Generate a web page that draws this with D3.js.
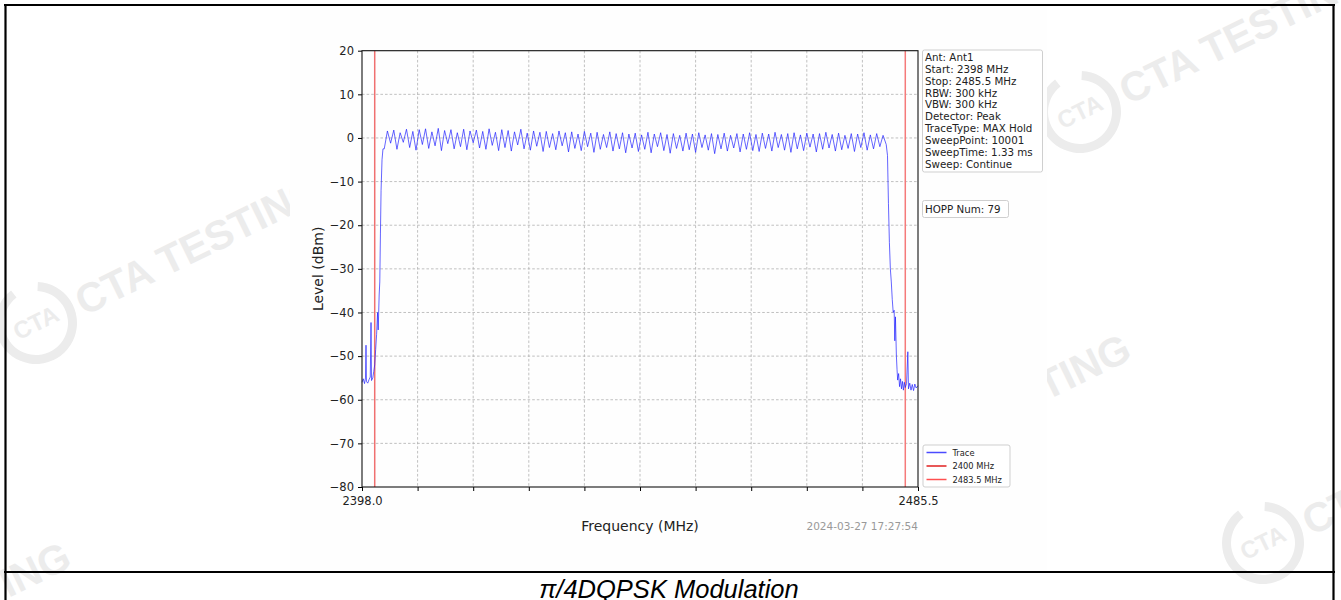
<!DOCTYPE html>
<html><head><meta charset="utf-8">
<script src="https://cdn.jsdelivr.net/npm/d3@7"></script>
<style>body{margin:0;background:#fff;} svg{display:block;}</style>
</head><body>
<svg id="c" width="1341" height="600"></svg>
<script>
// ---------------- data ----------------
const xTickValues = [2398.0, 2406.75, 2415.5, 2424.25, 2433.0, 2441.75, 2450.5, 2459.25, 2468.0, 2476.75, 2485.5];
const xTickLabels = ["2398.0", "", "", "", "", "", "", "", "", "", "2485.5"];
const yTickValues = [20, 10, 0, -10, -20, -30, -40, -50, -60, -70, -80];
const yTickLabels = ["20", "10", "0", "\u221210", "\u221220", "\u221230", "\u221240", "\u221250", "\u221260", "\u221270", "\u221280"];

// left skirt of the trace
const edgeLeftFreq  = [2398.0, 2398.2, 2398.4, 2398.55, 2398.63, 2398.7, 2398.9, 2399.1, 2399.3, 2399.42, 2399.5, 2399.7, 2399.85, 2400.0, 2400.15, 2400.3, 2400.45, 2400.55, 2400.7, 2400.8, 2400.9, 2401.0, 2401.15, 2401.3];
const edgeLeftLevel = [-56.0, -55.2, -56.3, -55.0, -47.5, -55.8, -56.2, -55.4, -54.8, -42.3, -55.6, -55.0, -53.5, -52.0, -48.5, -45.0, -40.0, -44.0, -36.0, -33.0, -22.0, -12.0, -5.0, -2.5];

// in-band ripple, one sweep reading every 0.5 MHz from 2401.5 MHz
const bandStartFreq = 2401.5, bandStepFreq = 0.5;
const bandLevel = [
  -2.5, 1.6, -1.2, 1.8, -2.6, 1.2, -1.0, 2.0, -2.2, 1.5, -2.8, 1.9, -1.5, 2.1, -2.4, 1.4, -1.8, 2.2, -2.9, 1.7,
  -1.3, 1.9, -2.5, 1.2, -2.0, 2.0, -2.7, 1.6, -1.1, 1.8, -2.3, 1.5, -2.6, 2.1, -1.7, 1.3, -2.9, 1.9,
  -2.2, 1.7, -3.0, 1.4, -1.6, 2.0, -2.5, 1.1, -2.8, 1.6, -1.9, 1.3, -3.1, 1.5, -2.2, 1.0, -2.7, 1.6, -1.8, 1.2,
  -3.2, 1.4, -2.4, 0.9, -2.9, 1.5, -2.0, 1.1, -3.3, 1.3, -2.6, 0.8, -2.2, 1.4, -3.0, 1.0, -2.5, 1.2, -3.4, 0.9,
  -2.3, 1.1, -3.1, 0.7, -2.6, 1.3, -3.4, 0.9, -2.0, 1.2, -2.9, 0.8, -3.5, 1.0, -2.4, 0.6, -3.0, 1.1, -2.7, 0.9,
  -3.3, 1.2, -2.2, 0.7, -2.8, 1.0, -3.6, 0.8, -2.5, 1.1, -3.0, 0.6, -2.3, 1.0, -3.2, 0.9, -2.6, 1.2, -2.9, 0.8,
  -3.1, 1.1, -2.4, 0.9, -3.0, 1.3, -2.2, 0.8, -2.8, 1.0, -3.3, 1.2, -2.5, 0.7, -2.9, 1.1, -2.1, 0.9, -3.2, 1.0,
  -2.6, 1.3, -2.3, 0.8, -3.0, 1.1, -2.7, 0.6, -2.4, 1.0, -3.1, 0.9, -2.2, 1.2, -2.8, 0.7, -2.5, 1.0, -2.0, 0.6, -1.5
];

// right skirt of the trace
const edgeRightFreq  = [2480.7, 2480.85, 2481.0, 2481.15, 2481.3, 2481.45, 2481.6, 2481.75, 2481.85, 2481.95, 2482.1, 2482.2, 2482.3, 2482.45, 2482.6, 2482.75, 2482.9, 2483.05, 2483.2, 2483.35, 2483.5, 2483.7, 2483.9, 2484.0, 2484.2, 2484.4, 2484.6, 2484.8, 2485.0, 2485.2, 2485.5];
const edgeRightLevel = [-4.0, -15.0, -24.0, -30.0, -33.0, -37.0, -40.0, -39.5, -46.5, -41.0, -50.0, -53.0, -55.5, -54.0, -57.0, -55.2, -57.5, -55.8, -57.8, -56.0, -57.2, -56.3, -49.0, -57.5, -56.2, -57.8, -56.5, -57.9, -56.4, -57.3, -56.8];

const limitFreqs  = [2400, 2483.5];
const limitNames  = ["2400 MHz", "2483.5 MHz"];
const infoLines = ["Ant: Ant1", "Start: 2398 MHz", "Stop: 2485.5 MHz", "RBW: 300 kHz", "VBW: 300 kHz", "Detector: Peak", "TraceType: MAX Hold", "SweepPoint: 10001", "SweepTime: 1.33 ms", "Sweep: Continue"];
const hoppText = "HOPP Num: 79";
const legendNames = ["Trace", "2400 MHz", "2483.5 MHz"];
const timestamp = "2024-03-27 17:27:54";
const caption = "\u03c0/4DQPSK Modulation";

// ---------------- build trace ----------------
const trace = [];
edgeLeftFreq.forEach((f, i) => trace.push([f, edgeLeftLevel[i]]));
bandLevel.forEach((v, i) => trace.push([bandStartFreq + i * bandStepFreq, v]));
edgeRightFreq.forEach((f, i) => trace.push([f, edgeRightLevel[i]]));

// ---------------- drawing ----------------
const svg = d3.select("#c");
const FONT = "DejaVu Sans, sans-serif";

// watermarks (behind the chart image)
const wmColor = "#ececec";
const WMFONT = "Liberation Sans, Arial, sans-serif";
const WMSIZE = 41;
const wm = svg.append("g");
function wmLogo(cx, cy, withText) {
  const g = wm.append("g").attr("transform", `translate(${cx},${cy}) rotate(-26)`);
  g.append("path").attr("d", d3.arc()({innerRadius: 32, outerRadius: 41, startAngle: 0.5, endAngle: 2 * Math.PI - 0.2}))
    .attr("fill", wmColor);
  g.append("text").attr("x", 0).attr("y", 8).attr("text-anchor", "middle")
    .attr("font-family", WMFONT).attr("font-weight", "bold").attr("font-size", 24)
    .attr("fill", wmColor).text("CTA");
  if (withText) {
    g.append("text").attr("x", 46).attr("y", 15)
      .attr("font-family", WMFONT).attr("font-weight", "bold").attr("font-size", WMSIZE)
      .attr("fill", wmColor).text("CTA TESTING");
  }
}
function wmTextEnd(x, y) {
  wm.append("text").attr("transform", `translate(${x},${y}) rotate(-26)`).attr("text-anchor", "end")
    .attr("font-family", WMFONT).attr("font-weight", "bold").attr("font-size", WMSIZE)
    .attr("fill", wmColor).text("CTA TESTING");
}
wmLogo(36, 323, true);
wmLogo(1080, 112, true);
wmLogo(1263, 543, true);
wmLogo(247, -44, false);
wmTextEnd(1134, 358);
wmTextEnd(74, 566);

// chart image background
svg.append("rect").attr("x", 290).attr("y", 7).attr("width", 757).attr("height", 564).attr("fill", "#fefefe");

const x = d3.scaleLinear().domain([2398, 2485.5]).range([362, 918]);
const y = d3.scaleLinear().domain([-80, 20]).range([487, 50.7]);

// grid
const grid = svg.append("g");
grid.selectAll(".gx").data(xTickValues.slice(1, -1)).join("line")
  .attr("x1", d => x(d)).attr("x2", d => x(d)).attr("y1", y(20)).attr("y2", y(-80))
  .attr("stroke", "#b0b0b0").attr("stroke-width", 0.8).attr("stroke-dasharray", "2.6,2");
grid.selectAll(".gy").data(yTickValues.slice(1, -1)).join("line")
  .attr("x1", x(2398)).attr("x2", x(2485.5)).attr("y1", d => y(d)).attr("y2", d => y(d))
  .attr("stroke", "#b0b0b0").attr("stroke-width", 0.8).attr("stroke-dasharray", "2.6,2");

// limit lines
const limitColors = ["#f07070", "#f57a7a"];
svg.selectAll(".lim").data(limitFreqs).join("line")
  .attr("x1", d => x(d)).attr("x2", d => x(d)).attr("y1", y(20)).attr("y2", y(-80))
  .attr("stroke", (d, i) => limitColors[i]).attr("stroke-width", 1.5);

// trace
const line = d3.line().x(d => x(d[0])).y(d => y(d[1]));
svg.append("path").datum(trace).attr("d", line)
  .attr("fill", "none").attr("stroke", "#1a1aff").attr("stroke-width", 0.8).attr("stroke-opacity", 0.85);

// axes
const xAxis = d3.axisBottom(x).tickValues(xTickValues).tickFormat((d, i) => xTickLabels[i]).tickSize(4).tickPadding(6);
const yAxis = d3.axisLeft(y).tickValues(yTickValues).tickFormat((d, i) => yTickLabels[i]).tickSize(4).tickPadding(4);
const gx = svg.append("g").attr("transform", `translate(0,${y(-80)})`).call(xAxis);
const gy = svg.append("g").attr("transform", `translate(${x(2398)},0)`).call(yAxis);
[gx, gy].forEach(g => {
  g.select(".domain").remove();
  g.selectAll("line").attr("stroke", "#000").attr("stroke-width", 1);
  g.selectAll("text").attr("font-family", FONT).attr("font-size", 11.5).attr("fill", "#222");
});
// spines
svg.append("rect").attr("x", x(2398)).attr("y", y(20)).attr("width", x(2485.5) - x(2398)).attr("height", y(-80) - y(20))
  .attr("fill", "none").attr("stroke", "#111").attr("stroke-width", 1.1);

// axis labels
svg.append("text").attr("x", (x(2398) + x(2485.5)) / 2).attr("y", 531).attr("text-anchor", "middle")
  .attr("font-family", FONT).attr("font-size", 14).attr("fill", "#222").text("Frequency (MHz)");
svg.append("text").attr("transform", `translate(323,${(y(20) + y(-80)) / 2}) rotate(-90)`).attr("text-anchor", "middle")
  .attr("font-family", FONT).attr("font-size", 14).attr("fill", "#222").text("Level (dBm)");
svg.append("text").attr("x", 918).attr("y", 530).attr("text-anchor", "end")
  .attr("font-family", FONT).attr("font-size", 10.5).attr("fill", "#999").text(timestamp);

// info box
function box(x0, y0, w, h) {
  svg.append("rect").attr("x", x0).attr("y", y0).attr("width", w).attr("height", h).attr("rx", 2)
    .attr("fill", "#fff").attr("stroke", "#cfcfcf").attr("stroke-width", 1);
}
box(922.5, 50, 120, 122);
svg.append("g").selectAll("text").data(infoLines).join("text")
  .attr("x", 925).attr("y", (d, i) => 61 + i * 11.85)
  .attr("font-family", FONT).attr("font-size", 10.3).attr("fill", "#222").text(d => d);
box(922.5, 200.5, 86, 17);
svg.append("text").attr("x", 925).attr("y", 213).attr("font-family", FONT).attr("font-size", 10.3).attr("fill", "#222").text(hoppText);

// legend
box(923, 445, 87, 42);
const legendColors = ["#4b4bff", "#e02020", "#ff5050"];
const lg = svg.append("g");
legendNames.forEach((n, i) => {
  const ly = 452.5 + i * 13.5;
  lg.append("line").attr("x1", 926.5).attr("x2", 946.5).attr("y1", ly).attr("y2", ly)
    .attr("stroke", legendColors[i]).attr("stroke-width", 1.5);
  lg.append("text").attr("x", 952.5).attr("y", ly + 3).attr("font-family", FONT).attr("font-size", 8.3)
    .attr("fill", "#222").text(n);
});

// table borders
const tb = svg.append("g").attr("stroke", "#000").attr("stroke-width", 2.2).attr("fill", "none");
tb.append("line").attr("x1", 4).attr("x2", 1335).attr("y1", 5).attr("y2", 5);
tb.append("line").attr("x1", 4).attr("x2", 1335).attr("y1", 572).attr("y2", 572);
tb.append("line").attr("x1", 5.5).attr("x2", 5.5).attr("y1", 4).attr("y2", 600);
tb.append("line").attr("x1", 1333.5).attr("x2", 1333.5).attr("y1", 4).attr("y2", 600);

// caption
svg.append("text").attr("x", 669).attr("y", 598).attr("text-anchor", "middle")
  .attr("font-family", "Liberation Sans, Arial, sans-serif").attr("font-style", "italic").attr("font-size", 25.5)
  .attr("fill", "#000").text(caption);
</script>
</body></html>
